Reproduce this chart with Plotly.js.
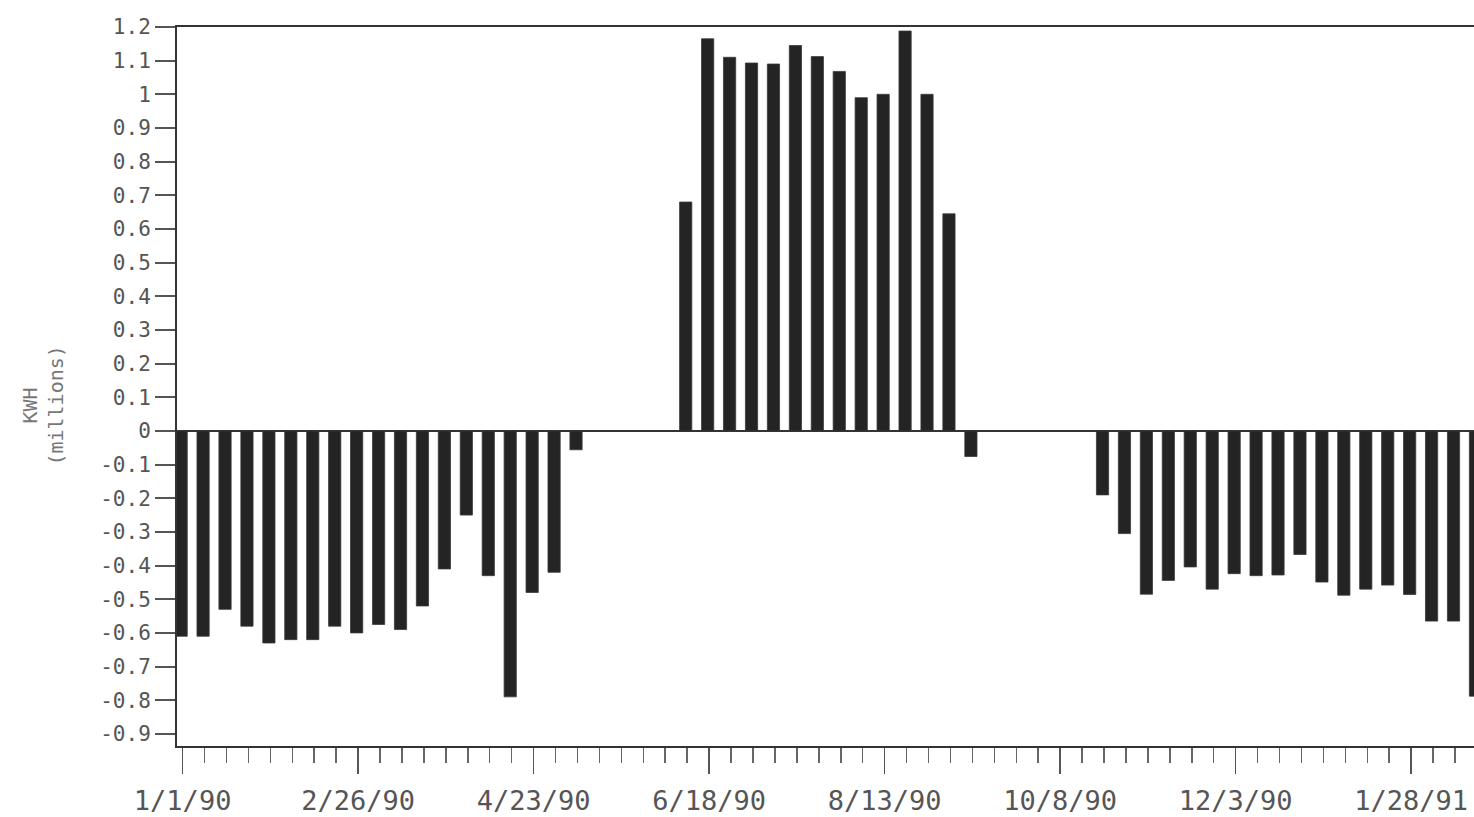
<!DOCTYPE html>
<html>
<head>
<meta charset="utf-8">
<script src="https://cdn.plot.ly/plotly-3.0.1.min.js"></script>
<style>
  html, body { margin: 0; padding: 0; background: #ffffff; }
  #chart { width: 1474px; height: 817px; }
</style>
</head>
<body>
<div id="chart"></div>
<script>
// Weekly dates (Mondays) that carry a bar
const weekDates = [
  '1990-01-01','1990-01-08','1990-01-15','1990-01-22','1990-01-29','1990-02-05','1990-02-12',
  '1990-02-19','1990-02-26','1990-03-05','1990-03-12','1990-03-19','1990-03-26','1990-04-02',
  '1990-04-09','1990-04-16','1990-04-23','1990-04-30','1990-05-07',
  '1990-06-11','1990-06-18','1990-06-25','1990-07-02','1990-07-09','1990-07-16','1990-07-23',
  '1990-07-30','1990-08-06','1990-08-13','1990-08-20','1990-08-27','1990-09-03','1990-09-10',
  '1990-10-22','1990-10-29','1990-11-05','1990-11-12','1990-11-19','1990-11-26','1990-12-03',
  '1990-12-10','1990-12-17','1990-12-24','1990-12-31','1991-01-07','1991-01-14','1991-01-21',
  '1991-01-28','1991-02-04','1991-02-11','1991-02-18'
];

// KWH (millions) for each week above
const kwhMillions = [
  -0.61,-0.61,-0.53,-0.58,-0.63,-0.62,-0.62,
  -0.58,-0.60,-0.575,-0.59,-0.52,-0.41,-0.25,
  -0.43,-0.79,-0.48,-0.42,-0.056,
  0.68,1.165,1.11,1.093,1.09,1.145,1.112,
  1.068,0.99,1.0,1.188,1.0,0.645,-0.076,
  -0.19,-0.305,-0.485,-0.444,-0.404,-0.47,-0.424,
  -0.43,-0.428,-0.367,-0.449,-0.488,-0.47,-0.458,
  -0.486,-0.565,-0.565,-0.788
];

// Y axis tick values and labels
const yTickVals = [1.2,1.1,1,0.9,0.8,0.7,0.6,0.5,0.4,0.3,0.2,0.1,0,-0.1,-0.2,-0.3,-0.4,-0.5,-0.6,-0.7,-0.8,-0.9];
const yTickText = ['1.2','1.1','1','0.9','0.8','0.7','0.6','0.5','0.4','0.3','0.2','0.1','0','-0.1','-0.2','-0.3','-0.4','-0.5','-0.6','-0.7','-0.8','-0.9'];

const yTitleLines = ['KWH', '(millions)'];

const DAY = 86400000;
const barWidthMs = 3.9 * DAY;
const barOffsetMs = -2.42 * DAY;

const trace = {
  type: 'bar',
  x: weekDates,
  y: kwhMillions,
  width: barWidthMs,
  offset: barOffsetMs,
  marker: { color: '#242424', line: { color: '#3a3a3a', width: 0.8 } },
  hoverinfo: 'x+y'
};

const layout = {
  width: 1474,
  height: 817,
  margin: { l: 177, r: 0, t: 27, b: 71, pad: 0 },
  paper_bgcolor: '#ffffff',
  plot_bgcolor: '#ffffff',
  showlegend: false,
  bargap: 0,
  xaxis: {
    type: 'date',
    range: ['1989-12-30 05:00', '1991-02-17 01:30'],
    tickmode: 'linear',
    tick0: '1990-01-01',
    dtick: 56 * DAY,
    tickformat: '%-m/%-d/%y',
    ticks: 'outside',
    ticklen: 26,
    tickwidth: 1.5,
    tickcolor: '#555',
    showgrid: false,
    zeroline: false,
    showline: true,
    linecolor: '#333',
    linewidth: 2,
    mirror: true,
    ticklabelstandoff: 4,
    tickfont: { family: 'DejaVu Sans Mono', size: 27, color: '#555' },
    minor: {
      tick0: '1990-01-01',
      dtick: 7 * DAY,
      ticks: 'outside',
      ticklen: 15,
      tickwidth: 1.5,
      tickcolor: '#666',
      showgrid: false
    }
  },
  yaxis: {
    range: [-0.936, 1.2],
    tickmode: 'array',
    tickvals: yTickVals,
    ticktext: yTickText,
    ticks: 'outside',
    ticklen: 20,
    tickwidth: 2,
    tickcolor: '#555',
    showgrid: false,
    zeroline: true,
    zerolinecolor: '#333',
    zerolinewidth: 2,
    showline: true,
    linecolor: '#333',
    linewidth: 2,
    mirror: false,
    tickfont: { family: 'DejaVu Sans Mono', size: 21, color: '#555' }
  },
  annotations: [
    {
      xref: 'paper', yref: 'paper',
      x: -0.103, y: 0.474,
      xanchor: 'center', yanchor: 'middle',
      textangle: -90,
      showarrow: false,
      text: yTitleLines.join('<br>'),
      font: { family: 'DejaVu Sans Mono', size: 20, color: '#777' }
    }
  ]
};

Plotly.newPlot('chart', [trace], layout, { displayModeBar: false, staticPlot: true });
</script>
</body>
</html>
